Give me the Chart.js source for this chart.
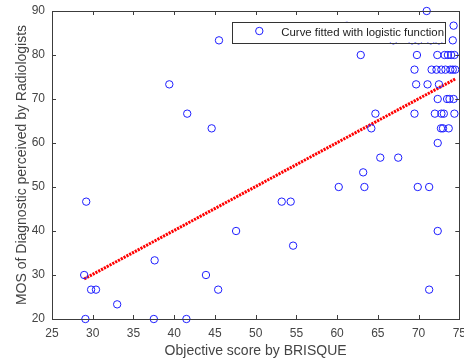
<!DOCTYPE html>
<html>
<head>
<meta charset="utf-8">
<script src="https://cdn.jsdelivr.net/npm/chart.js@4.4.1/dist/chart.umd.min.js"></script>
<style>
  html, body { margin: 0; padding: 0; background: #fff; }
  #wrap { width: 464px; height: 362px; }
</style>
</head>
<body>
<div id="wrap"><canvas id="c" width="464" height="362"></canvas></div>
<script>
// Objective BRISQUE score of each image
const brisque = [
  71.0,
  74.3, 61.2,
  45.5, 66.9, 69.2, 70.0, 71.5, 72.5, 74.2,
  62.9, 69.8, 72.3, 73.2, 73.6, 74.0, 74.4,
  69.5, 71.6, 72.2, 72.8, 73.3, 73.9, 74.2, 74.5,
  39.4, 69.7, 71.1, 72.5,
  72.35, 73.5, 73.8, 74.3,
  41.6, 64.7, 69.5, 72.0, 72.8, 73.1, 74.4,
  44.6, 64.2, 72.75, 73.0, 73.7,
  72.35,
  65.3, 67.5,
  63.2,
  60.2, 63.35, 69.9, 71.3,
  29.2, 53.2, 54.3,
  47.6, 72.35,
  54.6,
  37.6,
  28.95, 43.9,
  29.8, 30.4, 45.4, 71.3,
  33.0,
  29.1, 37.5, 41.5
];
// Mean opinion score given by the radiologists
const mos = [
  90,
  86.67, 86.67,
  83.33, 83.33, 83.33, 83.33, 83.33, 83.33, 83.33,
  80, 80, 80, 80, 80, 80, 80,
  76.67, 76.67, 76.67, 76.67, 76.67, 76.67, 76.67, 76.67,
  73.33, 73.33, 73.33, 73.33,
  70, 70, 70, 70,
  66.67, 66.67, 66.67, 66.67, 66.67, 66.67, 66.67,
  63.33, 63.33, 63.33, 63.33, 63.33,
  60,
  56.67, 56.67,
  53.33,
  50, 50, 50, 50,
  46.67, 46.67, 46.67,
  40, 40,
  36.67,
  33.33,
  30, 30,
  26.67, 26.67, 26.67, 26.67,
  23.33,
  20, 20, 20
];
// Fitted curve end points
const fitX = [28.95, 74.55];
const fitY = [29.1, 74.6];

const xTicks = [25, 30, 35, 40, 45, 50, 55, 60, 65, 70, 75];
const yTicks = [20, 30, 40, 50, 60, 70, 80, 90];

const legendLabel = 'Curve fitted with logistic function';
const FONT = '"Liberation Sans", Arial, Helvetica, sans-serif';
const AXIS_COLOR = '#3c3c3c';
const TEXT_COLOR = '#444';
const BLUE = 'rgb(30,30,255)';

// Box around the axes with inward tick marks on all four sides
const framePlugin = {
  id: 'frame',
  afterDatasetsDraw(chart) {
    const { ctx, chartArea: a, scales } = chart;
    ctx.save();
    ctx.strokeStyle = AXIS_COLOR;
    ctx.lineWidth = 1;
    ctx.strokeRect(Math.round(a.left) + 0.5, Math.round(a.top) + 0.5,
      Math.round(a.right - a.left), Math.round(a.bottom - a.top));
    const tl = 4;
    ctx.beginPath();
    scales.x.ticks.forEach(t => {
      const px = Math.round(scales.x.getPixelForValue(t.value)) + 0.5;
      ctx.moveTo(px, a.bottom); ctx.lineTo(px, a.bottom - tl);
      ctx.moveTo(px, a.top); ctx.lineTo(px, a.top + tl);
    });
    scales.y.ticks.forEach(t => {
      const py = Math.round(scales.y.getPixelForValue(t.value)) + 0.5;
      ctx.moveTo(a.left, py); ctx.lineTo(a.left + tl, py);
      ctx.moveTo(a.right, py); ctx.lineTo(a.right - tl, py);
    });
    ctx.stroke();
    ctx.restore();
  }
};

// Legend box in the upper right corner of the axes
const legendPlugin = {
  id: 'boxLegend',
  afterDraw(chart) {
    const { ctx, chartArea: a } = chart;
    const w = 213, h = 21;
    const x = a.right - 14 - w, y = a.top + 10.5;
    ctx.save();
    ctx.fillStyle = '#fff';
    ctx.fillRect(x, y, w, h);
    ctx.strokeStyle = '#333';
    ctx.lineWidth = 1;
    ctx.strokeRect(Math.round(x) + 0.5, Math.round(y) + 0.5, w, h);
    ctx.strokeStyle = BLUE;
    ctx.beginPath();
    ctx.arc(x + 27, y + 9.5, 3.7, 0, Math.PI * 2);
    ctx.stroke();
    ctx.fillStyle = '#222';
    ctx.font = '11.4px ' + FONT;
    ctx.textBaseline = 'middle';
    ctx.fillText(chart.data.datasets[0].label, x + 49, y + 11);
    ctx.restore();
  }
};

new Chart(document.getElementById('c'), {
  type: 'scatter',
  data: {
    datasets: [
      {
        label: legendLabel,
        data: brisque.map((x, i) => ({ x, y: mos[i] })),
        pointStyle: 'circle',
        pointRadius: 3.7,
        pointHoverRadius: 3.7,
        borderWidth: 1,
        borderColor: BLUE,
        backgroundColor: 'rgba(0,0,0,0)',
        clip: false
      },
      {
        label: 'fit',
        type: 'line',
        data: fitX.map((x, i) => ({ x, y: fitY[i] })),
        showLine: true,
        pointRadius: 0,
        borderColor: '#ff0000',
        borderWidth: 3,
        borderDash: [2.2, 1],
        fill: false,
        tension: 0
      }
    ]
  },
  options: {
    responsive: false,
    animation: false,
    events: [],
    layout: { padding: { top: 11, right: 3, left: 0, bottom: 0 } },
    plugins: { legend: { display: false }, tooltip: { enabled: false } },
    scales: {
      x: {
        type: 'linear',
        min: 25, max: 75,
        afterBuildTicks(s) { s.ticks = xTicks.map(v => ({ value: v })); },
        afterFit(s) { s.height = 43; s.paddingLeft = 0; s.paddingRight = 0; },
        grid: { display: false, drawTicks: false },
        border: { display: false },
        ticks: { padding: 7, color: TEXT_COLOR, font: { family: FONT, size: 12 }, maxRotation: 0, autoSkip: false },
        title: { display: true, text: 'Objective score by BRISQUE', color: TEXT_COLOR,
                 font: { family: FONT, size: 14 }, padding: { top: 0, bottom: 2 } }
      },
      y: {
        type: 'linear',
        min: 20, max: 90,
        afterBuildTicks(s) { s.ticks = yTicks.map(v => ({ value: v })); },
        afterFit(s) { s.width = 52; s.paddingTop = 0; s.paddingBottom = 0; },
        grid: { display: false, drawTicks: false },
        border: { display: false },
        ticks: { padding: 7, color: TEXT_COLOR, font: { family: FONT, size: 12 }, autoSkip: false },
        title: { display: true, text: 'MOS of Diagnostic perceived by Radiologists', color: TEXT_COLOR,
                 font: { family: FONT, size: 14 }, padding: { top: 14, bottom: 0 } }
      }
    }
  },
  plugins: [framePlugin, legendPlugin]
});
</script>
</body>
</html>
